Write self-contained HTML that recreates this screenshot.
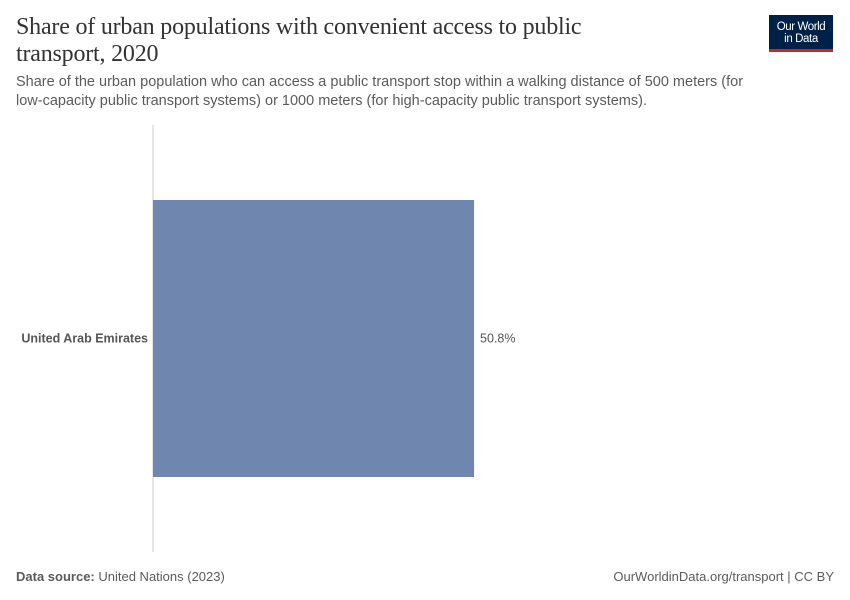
<!DOCTYPE html>
<html><head><meta charset="utf-8"><style>
body{margin:0;width:850px;height:600px;background:#fff;font-family:"Liberation Sans",sans-serif;position:relative;overflow:hidden}
.t{position:absolute;left:16px;top:14px;font-family:"Liberation Serif",serif;font-size:24px;line-height:27px;color:#333;width:640px;letter-spacing:-0.2px}
.s{position:absolute;left:16px;top:73px;font-size:14.5px;line-height:19px;color:#5b5b5b;width:752px}
.logo{position:absolute;left:769px;top:15px;width:64px;height:37px;background:#002147;border-bottom:3px solid #ce261e;box-sizing:border-box;color:#fff;font-size:11.5px;line-height:12px;text-align:center;padding-top:6px;letter-spacing:-0.4px}
.f{position:absolute;top:569px;font-size:13px;color:#5b5b5b}
</style></head><body>
<div class="t">Share of urban populations with convenient access to public transport, 2020</div>
<div class="s">Share of the urban population who can access a public transport stop within a walking distance of 500 meters (for low-capacity public transport systems) or 1000 meters (for high-capacity public transport systems).</div>
<div class="logo">Our World<br>in Data</div>
<svg id="c" width="850" height="600" style="position:absolute;left:0;top:0"></svg>
<div class="f" style="left:16px"><b>Data source:</b> United Nations (2023)</div>
<div class="f" style="right:16px">OurWorldinData.org/transport | CC BY</div>
<script>
const countries=["United Arab Emirates"];
const values=[50.8];
const maxValue=100;
const svg=document.getElementById('c');
const NS='http://www.w3.org/2000/svg';
const x0=153,x1=785,yTop=200,bandH=277;
function xs(v){return x0+(x1-x0)*v/maxValue;}
const ax=document.createElementNS(NS,'line');


ax.setAttribute('x1',x0);ax.setAttribute('x2',x0);ax.setAttribute('y1',125);ax.setAttribute('y2',552);
ax.setAttribute('stroke','#ccc');svg.appendChild(ax);
countries.forEach((c,i)=>{
 const y=yTop+i*bandH;
 const r=document.createElementNS(NS,'rect');
 
 
 r.setAttribute('x',x0);r.setAttribute('y',y);r.setAttribute('width',xs(values[i])-x0);r.setAttribute('height',bandH);
 r.setAttribute('fill','#6f87af');svg.appendChild(r);
 const l=document.createElementNS(NS,'text');
 
 
 l.setAttribute('x',x0-5);l.setAttribute('y',y+bandH/2+4);l.setAttribute('text-anchor','end');
 l.setAttribute('font-size','12.5');l.setAttribute('font-weight','bold');l.setAttribute('fill','#555');
 l.textContent=c;svg.appendChild(l);
 const v=document.createElementNS(NS,'text');
 
 
 v.setAttribute('x',xs(values[i])+6);v.setAttribute('y',y+bandH/2+4);
 v.setAttribute('font-size','12.5');v.setAttribute('fill','#555');
 v.textContent=values[i].toFixed(1)+'%';svg.appendChild(v);
});
</script>
</body></html>
